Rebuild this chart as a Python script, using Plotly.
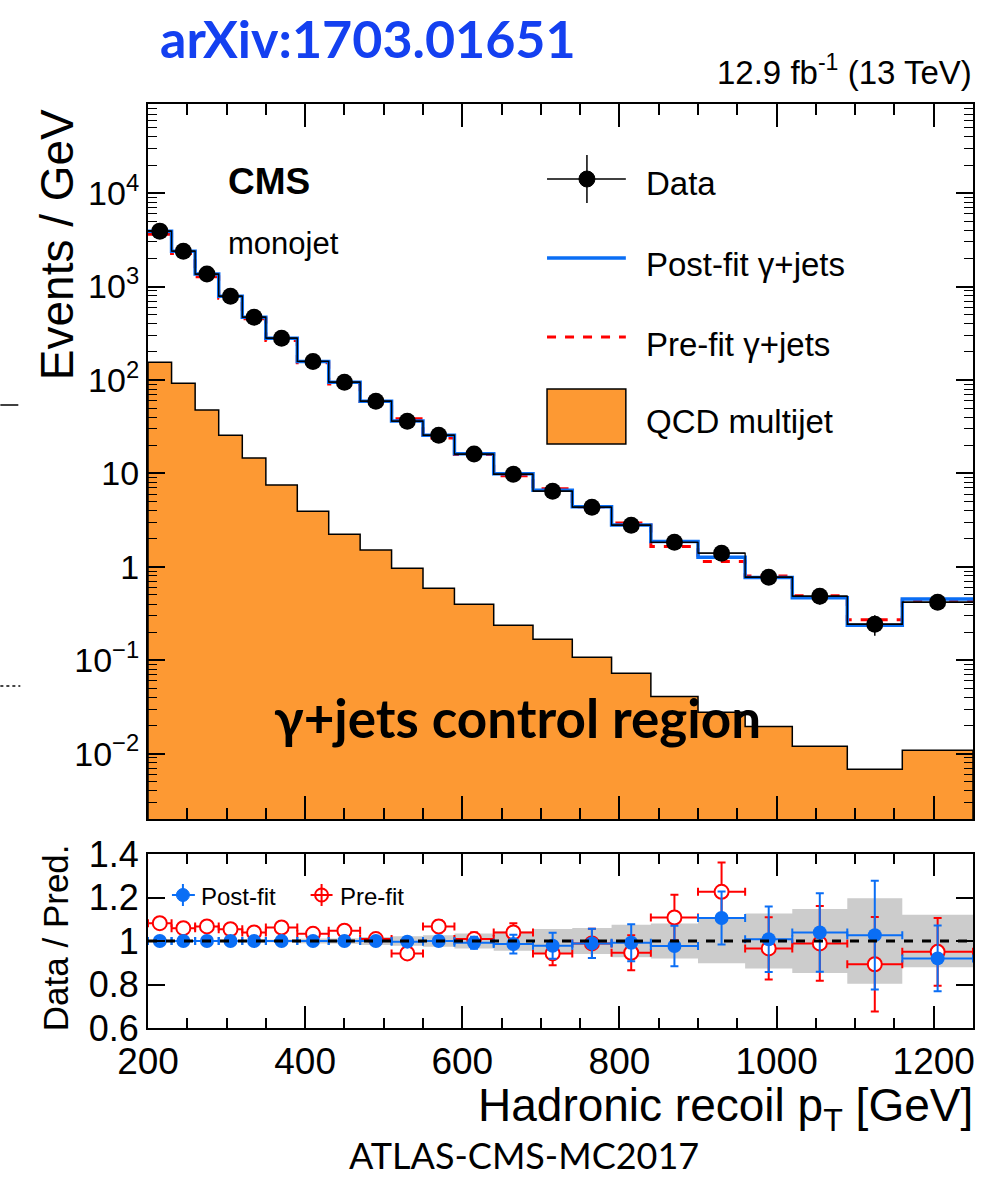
import plotly.graph_objects as go

# ---------------- data ----------------
bin_edges = [200, 230, 260, 290, 320, 350, 390, 430, 470, 510, 550, 590,
             640, 690, 740, 790, 840, 900, 960, 1020, 1090, 1160, 1250]

data_vals = [3920, 2390, 1360, 789, 470, 280, 158, 94.7, 59.3, 36.2, 25.6,
             16.1, 9.8, 6.45, 4.35, 2.79, 1.83, 1.40, 0.774, 0.485, 0.243, 0.418]
data_errs = [25, 20, 15, 11, 8, 6, 4, 3, 2.3, 1.7, 1.4,
             1.0, 0.7, 0.55, 0.45, 0.33, 0.24, 0.2, 0.12, 0.09, 0.06, 0.07]

postfit_vals = [3920, 2390, 1360, 789, 470, 280, 158, 94.7, 59.3, 36.3, 25.6,
                16.2, 9.94, 6.60, 4.40, 2.81, 1.87, 1.27, 0.768, 0.467, 0.237, 0.454]
prefit_vals = [3620, 2260, 1275, 749, 452, 264, 153, 90.4, 58.8, 38.4, 24.0,
               15.96, 9.43, 6.84, 4.40, 2.95, 1.65, 1.14, 0.80, 0.49, 0.272, 0.44]
qcd_vals = [155, 92, 47.6, 25.6, 14.6, 7.5, 3.94, 2.23, 1.51, 0.966, 0.59,
            0.398, 0.237, 0.168, 0.108, 0.0726, 0.041, 0.0277, 0.0196, 0.012, 0.0068, 0.0109]

ratio_post = [1.0, 1.0, 1.0, 1.0, 1.0, 1.0, 1.0, 1.0, 1.0, 0.997, 1.0,
              0.992, 0.986, 0.978, 0.989, 0.992, 0.977, 1.106, 1.008, 1.039, 1.027, 0.920]
ratio_post_err = [0.008, 0.008, 0.008, 0.009, 0.010, 0.010, 0.012, 0.013, 0.015, 0.018, 0.022,
                  0.028, 0.043, 0.060, 0.067, 0.085, 0.093, 0.122, 0.151, 0.180, 0.250, 0.151]
ratio_pre = [1.082, 1.059, 1.067, 1.054, 1.039, 1.062, 1.033, 1.047, 1.009, 0.943, 1.067,
             1.009, 1.039, 0.943, 0.989, 0.946, 1.108, 1.226, 0.966, 0.989, 0.893, 0.950]
ratio_pre_err = [0.009, 0.009, 0.009, 0.010, 0.011, 0.011, 0.013, 0.014, 0.016, 0.020, 0.028,
                 0.030, 0.043, 0.054, 0.067, 0.080, 0.105, 0.135, 0.143, 0.172, 0.217, 0.156]
band_err = [0.004, 0.004, 0.005, 0.005, 0.006, 0.007, 0.010, 0.013, 0.018, 0.022, 0.026,
            0.035, 0.045, 0.055, 0.060, 0.075, 0.081, 0.102, 0.126, 0.147, 0.196, 0.121]

y_tickvals = [1e-2, 1e-1, 1, 10, 1e2, 1e3, 1e4]
y_ticktext = ["10<sup>\u22122</sup>", "10<sup>\u22121</sup>", "1", "10",
              "10<sup>2</sup>", "10<sup>3</sup>", "10<sup>4</sup>"]
x_tickvals = [200, 400, 600, 800, 1000, 1200]
x_ticktext = ["200", "400", "600", "800", "1000", "1200"]
r_tickvals = [0.6, 0.8, 1.0, 1.2, 1.4]
r_ticktext = ["0.6", "0.8", "1", "1.2", "1.4"]

# ---------------- helpers ----------------
centers = [(a + b) / 2 for a, b in zip(bin_edges[:-1], bin_edges[1:])]
halfw = [(b - a) / 2 for a, b in zip(bin_edges[:-1], bin_edges[1:])]


def step_xy(vals):
    xs, ys = [], []
    for i, v in enumerate(vals):
        xs += [bin_edges[i], bin_edges[i + 1]]
        ys += [v, v]
    return xs, ys


W, H = 982, 1178
ML, MR, MT, MB = 148, 7, 104, 150
PW = W - ML - MR
PH = H - MT - MB


def px(x):
    return (x - ML) / PW


def py(y):
    return (H - MB - y) / PH


HELV = "Liberation Sans, Arial, Helvetica, sans-serif"
CALI = "Lato, Open Sans, sans-serif"
ORANGE = "#fd9933"
BLUE = "#0a6ef5"
RED = "#ff0000"

fig = go.Figure()

# ---------------- upper panel ----------------
qx, qy = step_xy(qcd_vals)
base = 1e-3
fig.add_trace(go.Scatter(x=[bin_edges[0]] + qx + [bin_edges[-1]],
                         y=[base] + qy + [base],
                         mode="lines", fill="toself", fillcolor=ORANGE,
                         line=dict(color="black", width=1.5),
                         xaxis="x", yaxis="y", showlegend=False, hoverinfo="skip"))

prx, pry = step_xy(prefit_vals)
fig.add_trace(go.Scatter(x=prx, y=pry, mode="lines",
                         line=dict(color=RED, width=3, dash="dash"),
                         xaxis="x", yaxis="y", showlegend=False))

pox, poy = step_xy(postfit_vals)
fig.add_trace(go.Scatter(x=pox, y=poy, mode="lines",
                         line=dict(color=BLUE, width=3.5),
                         xaxis="x", yaxis="y", showlegend=False))

dx, dy = step_xy(data_vals)
fig.add_trace(go.Scatter(x=dx, y=dy, mode="lines",
                         line=dict(color="black", width=1.3),
                         xaxis="x", yaxis="y", showlegend=False))

fig.add_trace(go.Scatter(x=centers, y=data_vals, mode="markers",
                         marker=dict(color="black", size=17),
                         error_y=dict(type="data", array=data_errs, color="black",
                                      thickness=1.5, width=0),
                         error_x=dict(type="data", array=halfw, color="black",
                                      thickness=1.3, width=0),
                         xaxis="x", yaxis="y", showlegend=False))

# ---------------- ratio panel ----------------
bx, by_up = step_xy([1 + e for e in band_err])
_, by_dn = step_xy([1 - e for e in band_err])
fig.add_trace(go.Scatter(x=bx + bx[::-1], y=by_up + by_dn[::-1],
                         mode="lines", fill="toself", fillcolor="#cccccc",
                         line=dict(width=0, color="#cccccc"),
                         xaxis="x2", yaxis="y2", showlegend=False, hoverinfo="skip"))

fig.add_shape(type="line", xref="x2 domain", yref="y2", x0=0, x1=1, y0=1, y1=1,
              line=dict(color="black", width=3, dash="dash"))

fig.add_trace(go.Scatter(x=centers, y=ratio_pre, mode="markers",
                         marker=dict(symbol="circle", color="white", size=14,
                                     line=dict(width=2, color=RED)),
                         error_y=dict(type="data", array=ratio_pre_err, color=RED,
                                      thickness=2, width=4),
                         error_x=dict(type="data", array=halfw, color=RED,
                                      thickness=2, width=4),
                         xaxis="x2", yaxis="y2", showlegend=False))
fig.add_trace(go.Scatter(x=centers, y=ratio_post, mode="markers",
                         marker=dict(symbol="circle", color=BLUE, size=14),
                         error_y=dict(type="data", array=ratio_post_err, color=BLUE,
                                      thickness=2, width=4),
                         error_x=dict(type="data", array=halfw, color=BLUE,
                                      thickness=2, width=4),
                         xaxis="x2", yaxis="y2", showlegend=False))

# ---------------- axes ----------------
y_minor = [k * 10 ** d for d in range(-3, 5) for k in range(2, 10)]
axis_common = dict(showline=True, linecolor="black", linewidth=2, mirror="allticks",
                   ticks="inside", tickcolor="black", tickwidth=1.5,
                   showgrid=False, zeroline=False)

fig.update_layout(
    width=W, height=H,
    margin=dict(l=ML, r=MR, t=MT, b=MB),
    paper_bgcolor="white", plot_bgcolor="white",
    showlegend=False,
    xaxis=dict(domain=[0, 1], range=[200, 1250], anchor="y",
               tickvals=x_tickvals, showticklabels=False, ticklen=23,
               minor=dict(ticks="inside", ticklen=11, dtick=50, tick0=200,
                          tickcolor="black", tickwidth=1.5, showgrid=False),
               **axis_common),
    yaxis=dict(domain=[py(819), 1], type="log", range=[-2.699, 4.954], anchor="x",
               tickvals=y_tickvals, ticktext=y_ticktext, ticklen=17,
               tickfont=dict(family=HELV, size=34, color="black"),
               minor=dict(ticks="inside", ticklen=9, tickvals=y_minor,
                          tickcolor="black", tickwidth=1.2, showgrid=False),
               **axis_common),
    xaxis2=dict(domain=[0, 1], range=[200, 1250], anchor="y2", matches="x",
                tickvals=x_tickvals, ticktext=x_ticktext, ticklen=22,
                tickfont=dict(family=HELV, size=37, color="black"),
                minor=dict(ticks="inside", ticklen=10, dtick=50, tick0=200,
                           tickcolor="black", tickwidth=1.5, showgrid=False),
                **axis_common),
    yaxis2=dict(domain=[0, py(854)], range=[0.6, 1.4], anchor="x2",
                tickvals=r_tickvals, ticktext=r_ticktext, ticklen=17,
                tickfont=dict(family=HELV, size=36, color="black"),
                **axis_common),
)

# ---------------- legends (drawn) ----------------
shapes = [
    # Data
    dict(type="line", x0=px(548), x1=px(627), y0=py(179), y1=py(179),
         line=dict(color="black", width=1.5)),
    dict(type="line", x0=px(588), x1=px(588), y0=py(155), y1=py(203),
         line=dict(color="black", width=1.5)),
    dict(type="circle", x0=px(580), x1=px(596), y0=py(171), y1=py(187),
         fillcolor="black", line=dict(color="black", width=1)),
    # Post-fit
    dict(type="line", x0=px(548), x1=px(627), y0=py(258), y1=py(258),
         line=dict(color=BLUE, width=3.5)),
    # Pre-fit
    dict(type="line", x0=px(548), x1=px(627), y0=py(337), y1=py(337),
         line=dict(color=RED, width=3, dash="dash")),
    # QCD
    dict(type="rect", x0=px(548), x1=px(627), y0=py(444), y1=py(389),
         fillcolor=ORANGE, line=dict(color="black", width=1.5)),
    # ratio legend: post-fit
    dict(type="line", x0=px(172), x1=px(195), y0=py(895), y1=py(895),
         line=dict(color=BLUE, width=2)),
    dict(type="line", x0=px(183), x1=px(183), y0=py(884), y1=py(906),
         line=dict(color=BLUE, width=2)),
    dict(type="circle", x0=px(176.5), x1=px(189.5), y0=py(888.5), y1=py(901.5),
         fillcolor=BLUE, line=dict(color=BLUE, width=1)),
    # ratio legend: pre-fit
    dict(type="line", x0=px(311), x1=px(333), y0=py(895), y1=py(895),
         line=dict(color=RED, width=2)),
    dict(type="line", x0=px(322), x1=px(322), y0=py(884), y1=py(906),
         line=dict(color=RED, width=2)),
    dict(type="circle", x0=px(315.5), x1=px(328.5), y0=py(888.5), y1=py(901.5),
         fillcolor="rgba(0,0,0,0)", line=dict(color=RED, width=2)),
    # stray marks on the left edge of the reference
    dict(type="line", x0=px(0), x1=px(18), y0=py(405), y1=py(405),
         line=dict(color="black", width=1.5)),
    dict(type="line", x0=px(0), x1=px(20), y0=py(686), y1=py(686),
         line=dict(color="#444444", width=2, dash="dot")),
]
for s in shapes:
    s.update(xref="paper", yref="paper")
    fig.add_shape(**s)


def ann(text, x, y, size, family=HELV, xanchor="left", yanchor="middle",
        color="black", angle=0):
    fig.add_annotation(text=text, x=px(x), y=py(y), xref="paper", yref="paper",
                       xanchor=xanchor, yanchor=yanchor, showarrow=False,
                       textangle=angle,
                       font=dict(family=family, size=size, color=color))


ann("Data", 645, 184, 33)
ann("Post-fit \u03b3+jets", 645, 264, 33)
ann("Pre-fit \u03b3+jets", 645, 344, 33)
ann("QCD multijet", 645, 421, 33)
ann("Post-fit", 199, 896, 24)
ann("Pre-fit", 338, 896, 24)

ann("<b>CMS</b>", 226, 181, 37)
ann("monojet", 226, 243, 31)
ann("12.9 fb<sup>-1</sup> (13 TeV)", 976, 70, 33, xanchor="right")
ann("<b>arXiv:1703.01651</b>", 158, 38, 52, family=CALI, color="#1440f0")
ann("<b>\u03b3+jets control region</b>", 272, 717, 53, family=CALI)
ann("Hadronic recoil p<sub>T</sub> [GeV]", 977, 1108, 46, xanchor="right")
ann("ATLAS-CMS-MC2017", 525, 1155, 36, family=CALI, xanchor="center")
ann("Events / GeV", 57, 245, 46, xanchor="center", angle=-90)
ann("Data / Pred.", 55, 938, 35, xanchor="center", angle=-90)

fig.write_html(
    "out.html",
    config={"displayModeBar": False},
    post_script="document.body.style.margin='0';document.body.style.overflow='hidden';",
)
